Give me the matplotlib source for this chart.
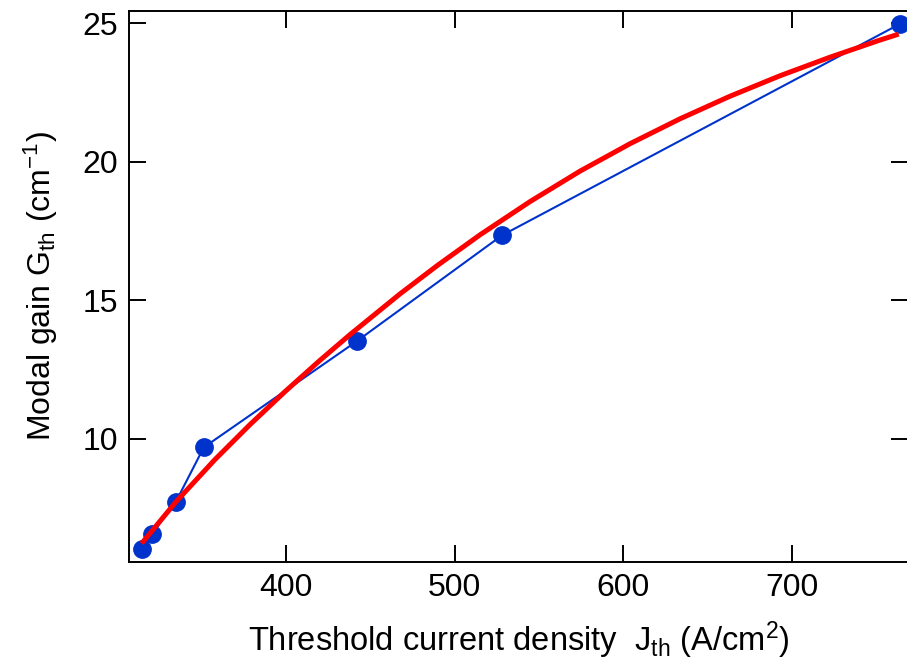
import matplotlib
matplotlib.use("Agg")
import matplotlib.pyplot as plt

plt.rcParams['font.family'] = ['Liberation Sans', 'DejaVu Sans']
plt.rcParams['mathtext.fontset'] = 'custom'
plt.rcParams['mathtext.rm'] = 'Liberation Sans'
plt.rcParams['mathtext.it'] = 'Liberation Sans'

# measured data
j_data = [314.9, 320.8, 335.0, 351.5, 442.2, 528.1, 763.8]
g_data = [6.01, 6.55, 7.72, 9.68, 13.52, 17.34, 24.98]

# fit curve
j_fit = [314.7, 335.4, 358.1, 378.8, 399.5, 420.2, 438.0, 467.6, 490.0, 515.1,
         544.7, 574.3, 603.9, 633.5, 662.9, 692.5, 722.1, 751.7, 763.0]
g_fit = [6.21, 7.74, 9.24, 10.50, 11.69, 12.82, 13.75, 15.22, 16.26, 17.36,
         18.56, 19.66, 20.65, 21.55, 22.36, 23.10, 23.77, 24.39, 24.61]

xticks = [400, 500, 600, 700]
yticks = [10, 15, 20, 25]

fig = plt.figure(figsize=(9.07, 6.67), dpi=100)
ax = fig.add_axes([129.3/907, 1-562/667, (908-129.3)/907, (562-10.7)/667])

ax.plot(j_data, g_data, '-o', color='#0033CC', lw=1.5, ms=12.5, zorder=2)
ax.plot(j_fit, g_fit, '-', color='#FF0000', lw=3.6, zorder=3,
        solid_joinstyle='round', solid_capstyle='butt')

ax.set_xlim(307.4, 768.5)
ax.set_ylim(5.54, 25.455)
ax.set_xticks(xticks)
ax.set_yticks(yticks)
ax.tick_params(direction='in', length=12, width=1.4, labelsize=23,
               top=True, right=True, pad=8)
for s in ax.spines.values():
    s.set_linewidth(1.4)

ax.set_xlabel('Threshold current density  J$_\\mathregular{th}$ (A/cm$^\\mathregular{2}$)', fontsize=23.5, labelpad=12)
ax.set_ylabel('Modal gain G$_\\mathregular{th}$ (cm$^\\mathregular{-1}$)', fontsize=23, labelpad=16)

fig.savefig('out.png', dpi=100)
